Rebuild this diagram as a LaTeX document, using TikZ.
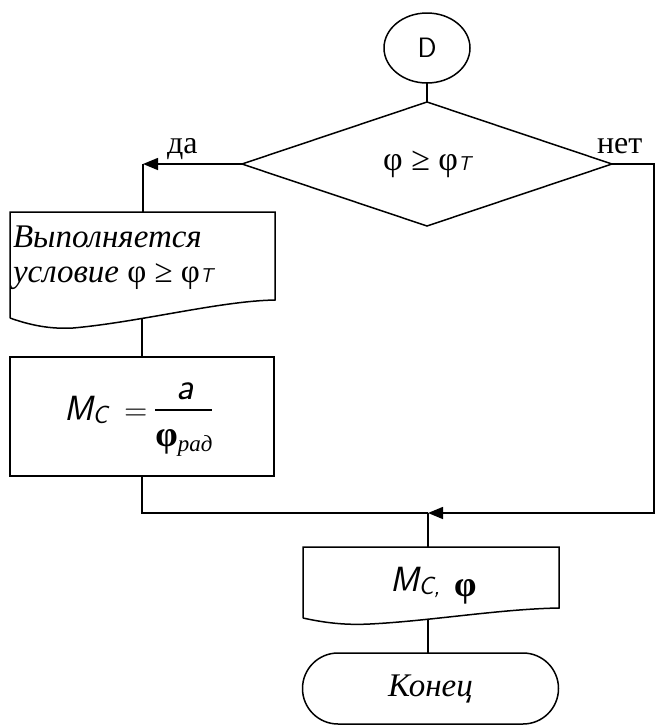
\documentclass[tikz,border=0pt]{standalone}
\usepackage{fontspec}
\setmainfont{Liberation Serif}
\usetikzlibrary{shapes.geometric,shapes.misc,arrows.meta}

% small oblique sans index, as used for T and C
\newcommand{\sidx}[1]{{\sffamily\itshape\fontsize{20}{20}\selectfont #1}}

\begin{document}
\begin{tikzpicture}[x=1pt,y=-1pt,line width=1.5pt,
  every node/.style={inner sep=0pt,outer sep=0pt},
  >={Triangle[length=15pt,width=12pt]},
  txt/.style={font=\fontsize{32}{35}\selectfont},
  sans/.style={font=\sffamily\fontsize{28}{30}\selectfont},
  blockbox/.style={draw,rectangle}]
\useasboundingbox (0,0) rectangle (659,726);

% connector circle
\node[draw,ellipse,minimum width=86pt,minimum height=70pt,sans] (D) at (427,48) {D};

% decision
\node[draw,diamond,aspect=2.98,minimum width=370pt,minimum height=124pt,
      font=\fontsize{34}{35}\selectfont] (cond) at (427,164)
      {\raisebox{-6pt}{φ ≥ φ\sidx{T}}};
\node[txt,anchor=base west] (yes) at (167,153) {да};
\node[txt,anchor=base west] (no) at (597,153) {нет};

% document block with wavy lower edge
\node[minimum width=265pt,minimum height=106pt] (doc) at (142.5,265) {};
\draw (10,318) -- (10,212) -- (275,212) -- (275,300)
      .. controls (220,301) and (140,322) .. (73,328)
      .. controls (55,329) and (35,327) .. (10,318);
\node[anchor=base west,font=\itshape\fontsize{33}{35}\selectfont] (doc1) at (13,247) {Выполняется};
\node[anchor=base west,font=\fontsize{33}{35}\selectfont] (doc2) at (13,282)
      {\textit{условие} φ ≥ φ\sidx{T}};
\coordinate (docbot) at (142,318);

% process block
\node[blockbox,minimum width=264pt,minimum height=119pt] (proc) at (142,416.5) {};
\node[anchor=base west,font=\sffamily\itshape\fontsize{35}{35}\selectfont] (mc) at (64,420)
      {M\raisebox{-3pt}{\fontsize{25}{25}\selectfont C}};
\node[anchor=base west,font=\sffamily\fontsize{32}{32}\selectfont] (eq) at (124,420) {=};
\node[anchor=base,font=\sffamily\itshape\fontsize{38}{38}\selectfont] (num) at (185,399) {a};
\node[anchor=base,font=\fontsize{36}{36}\selectfont] (den) at (184,446)
      {\textbf{φ}\raisebox{-5pt}{\itshape\fontsize{23}{23}\selectfont рад}};
\draw[line width=1.2pt] (155,410) -- (212,410);

% output block
\node[minimum width=256pt,minimum height=76pt] (out) at (431,585) {};
\draw (303,618) -- (303,547) -- (559,547) -- (559,608)
      .. controls (500,609) and (430,621) .. (370,624)
      .. controls (350,625) and (330,624) .. (303,618);
\node[anchor=base west,font=\sffamily\itshape\fontsize{35}{35}\selectfont] (res) at (390,591)
      {M\raisebox{-3pt}{\fontsize{25}{25}\selectfont C,}};
\node[anchor=base west,font=\bfseries\fontsize{36}{36}\selectfont] (resphi) at (454,596) {φ};

% terminal
\node[draw,rounded rectangle,minimum width=256pt,minimum height=71pt,
      font=\itshape\fontsize{33}{35}\selectfont] (end) at (430.5,688.5) {Конец};

% connectors
\coordinate (yesturn) at (143,164);
\coordinate (noturn1) at (654,164);
\coordinate (noturn2) at (654,513);
\coordinate (leftturn) at (142,513);
\coordinate (join) at (428,513);

\draw (D.south) -- (cond.north);
\draw[->] (cond.west) -- (yesturn);
\draw (yesturn) -- (yesturn |- doc.north);
\draw (docbot) -- (proc.north);
\draw (proc.south) -- (leftturn) -- (join);
\draw[->] (cond.east) -- (noturn1) -- (noturn2) -- (join);
\draw (join) -- (join |- out.north);
\draw (428,620) -- (end.north -| 428,620);
\end{tikzpicture}
\end{document}
